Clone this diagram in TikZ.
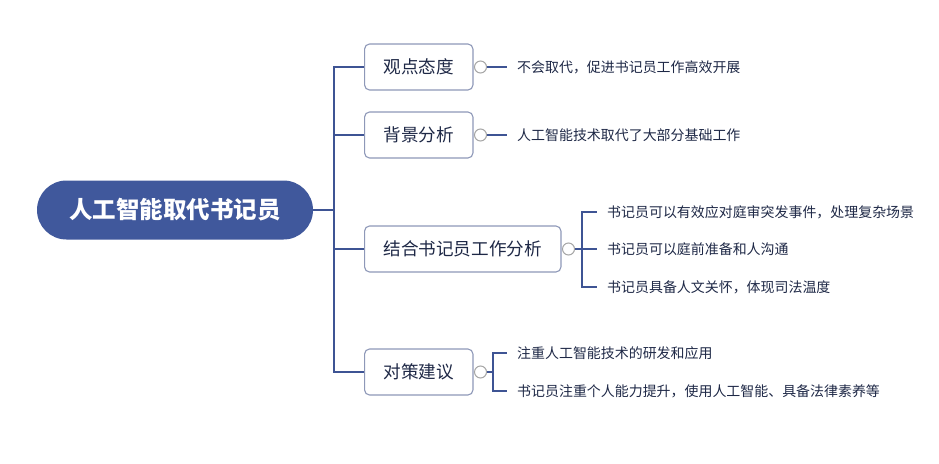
\documentclass[tikz,border=0pt]{standalone}
\usepackage{fontspec}
\newfontfamily\cjk{Noto Sans CJK SC}
\usetikzlibrary{positioning}

\definecolor{rootblue}{RGB}{64,88,156}
\definecolor{linkblue}{RGB}{62,84,148}
\definecolor{boxgray}{RGB}{142,152,184}
\definecolor{txtnavy}{RGB}{30,40,70}
\definecolor{dotgray}{RGB}{165,165,165}

\tikzset{
  rootnode/.style={fill=rootblue,text=white,rounded corners=29.5pt,minimum width=276pt,
    minimum height=59pt,font=\cjk\bfseries\fontsize{23.5}{26}\selectfont},
  topic/.style={draw=boxgray,line width=1.1pt,fill=white,rounded corners=5pt,minimum height=46pt,
    inner xsep=19pt,text=txtnavy,font=\cjk\fontsize{17.6}{20}\selectfont},
  fold/.style={circle,draw=dotgray,fill=white,line width=1pt,minimum size=12pt,inner sep=0pt},
  leaf/.style={anchor=west,inner xsep=10pt,text=txtnavy,font=\cjk\fontsize{13.95}{16}\selectfont},
  link/.style={draw=linkblue,line width=2.6pt},
  twig/.style={draw=linkblue,line width=2pt}
}

\begin{document}
\begin{tikzpicture}[x=1pt,y=-1pt]
   \useasboundingbox (0,0) rectangle (939,463);
   % main topic
   \node[rootnode] (root) at (175,210) {人工智能取代书记员};
   \coordinate (trunk) at (334,210);
   % branches
   \node[topic,anchor=west] (view) at (364,67) {观点态度};
   \node[topic,anchor=west] (back) at (364,135) {背景分析};
   \node[topic,anchor=west] (work) at (364,249) {结合书记员工作分析};
   \node[topic,anchor=west] (plan) at (364,372) {对策建议};
   \path[link] (root.east) -- (trunk);
   \foreach \b in {view,back,work,plan}
      \path[link] (trunk) |- (\b.west);
   % fold marks
   \node[fold,right=0.5pt of view.east,anchor=west] (fview) {};
   \node[fold,right=0.5pt of back.east,anchor=west] (fback) {};
   \node[fold,right=0.5pt of work.east,anchor=west] (fwork) {};
   \node[fold,right=0.5pt of plan.east,anchor=west] (fplan) {};
   % leaves
   \node[leaf] (view1) at (507,67) {不会取代，促进书记员工作高效开展};
   \node[leaf] (back1) at (507,135) {人工智能技术取代了大部分基础工作};
   \path[twig] (fview.east) -- (view1.west);
   \path[twig] (fback.east) -- (back1.west);
   \coordinate (kwork) at (582,249);
   \node[leaf] (work1) at (597,212) {书记员可以有效应对庭审突发事件，处理复杂场景};
   \node[leaf] (work2) at (597,249) {书记员可以庭前准备和人沟通};
   \node[leaf] (work3) at (597,287) {书记员具备人文关怀，体现司法温度};
   \path[twig] (fwork.east) -- (kwork);
   \foreach \l in {work1,work2,work3}
      \path[twig] (kwork) |- (\l.west);
   \coordinate (kplan) at (493,372);
   \node[leaf] (plan1) at (507,353) {注重人工智能技术的研发和应用};
   \node[leaf] (plan2) at (507,391) {书记员注重个人能力提升，使用人工智能、具备法律素养等};
   \path[twig] (fplan.east) -- (kplan);
   \foreach \l in {plan1,plan2}
      \path[twig] (kplan) |- (\l.west);
\end{tikzpicture}
\end{document}
